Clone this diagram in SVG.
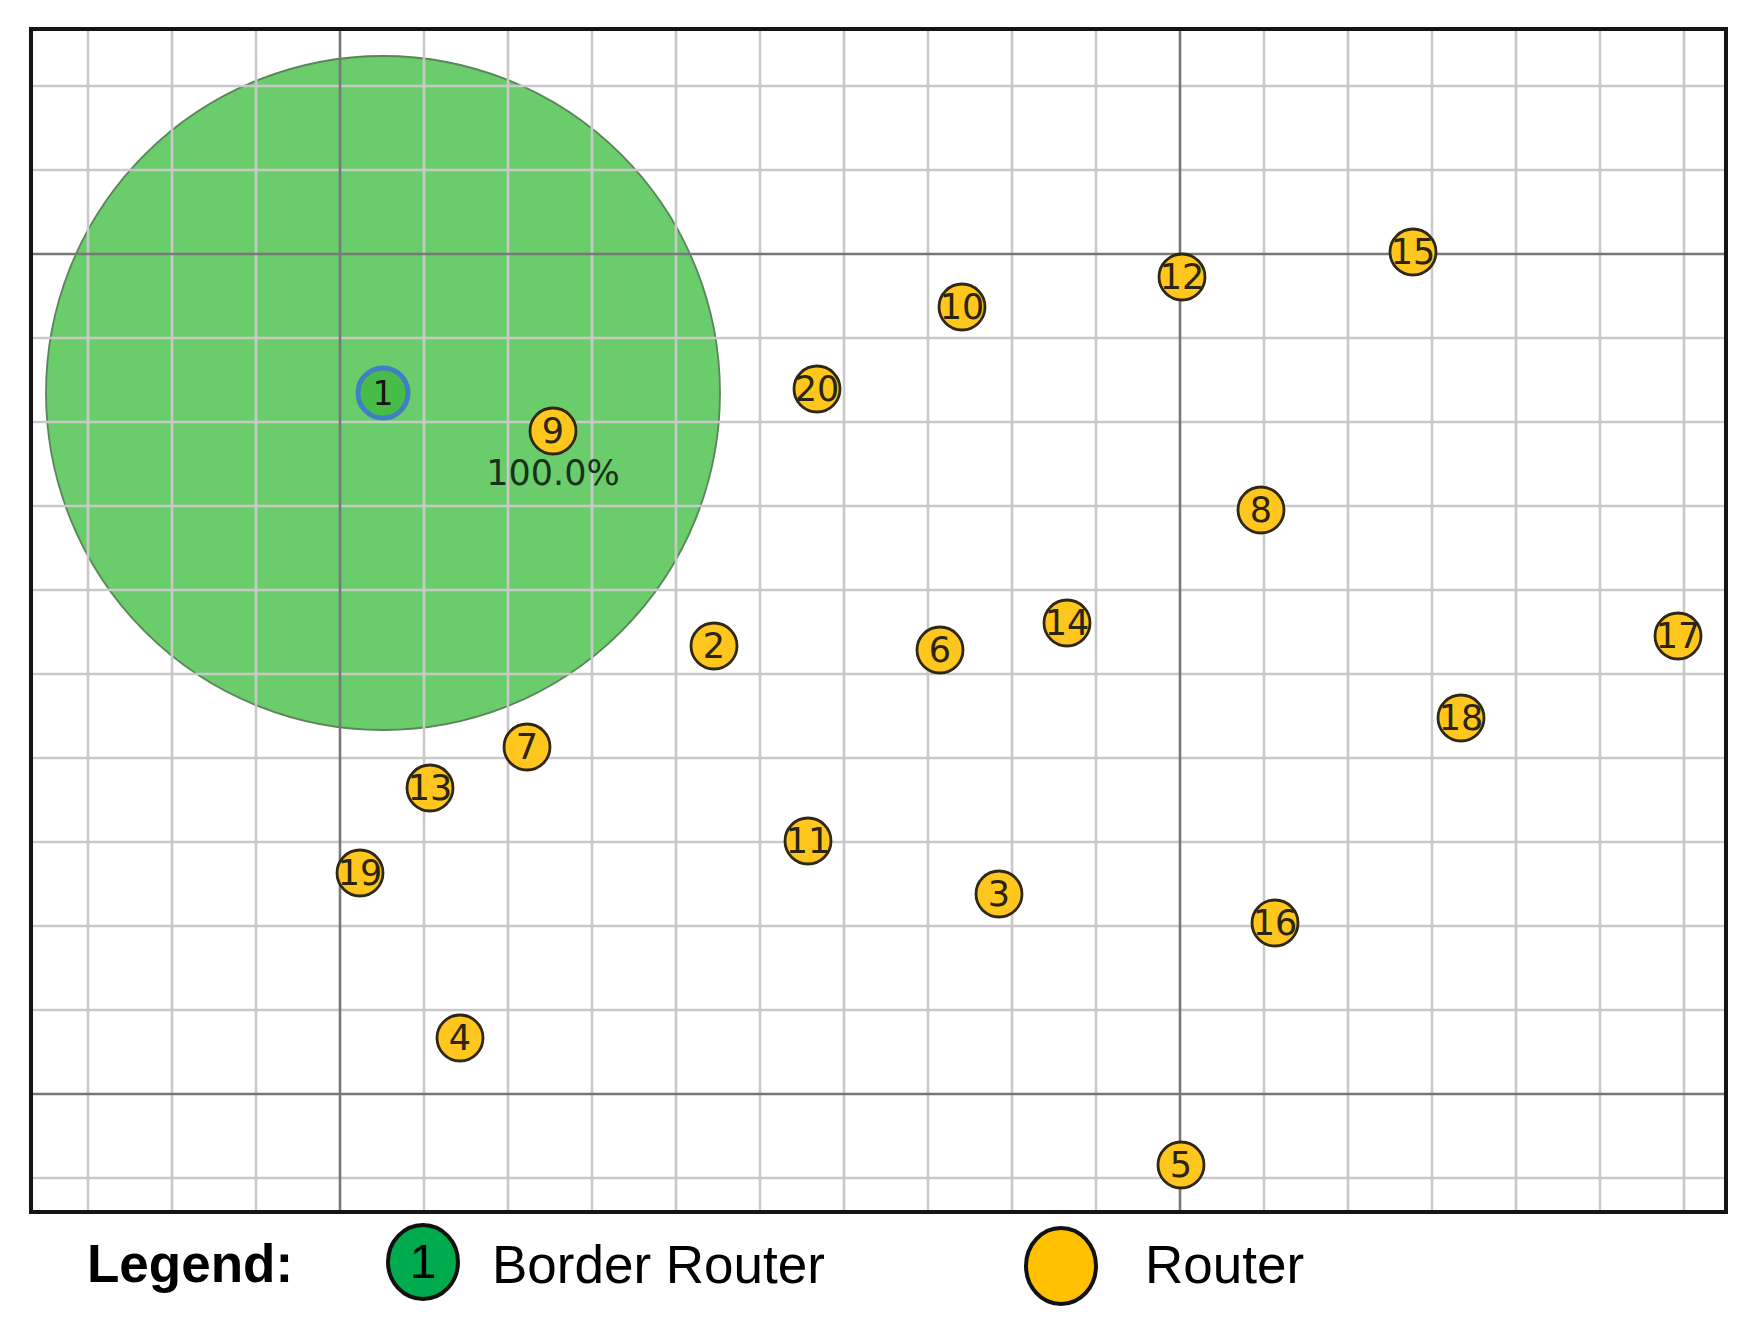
<svg xmlns="http://www.w3.org/2000/svg" width="1752" height="1328" viewBox="0 0 1752 1328">
<style>
.gl{stroke:#c9c9c9;stroke-width:2.6;fill:none}
.gd{stroke:#787878;stroke-width:2.6;fill:none}
.frame{fill:none;stroke:#141414;stroke-width:4}
.rt circle{fill:#ffc71e;stroke:#2e2814;stroke-width:2.8}
.rt text{font-family:"DejaVu Sans",sans-serif;font-size:35px;fill:#2a2410;text-anchor:middle}
.lg{font-family:"Liberation Sans",Arial,sans-serif;fill:#000}
</style>
<rect x="0" y="0" width="1752" height="1328" fill="#ffffff"/>
<g id="range">
<circle cx="383" cy="393" r="337" fill="#6acc6a" stroke="#5a855a" stroke-width="1.8"/>
</g>
<g id="grid">
<path class="gl" d="M88 29V1212M172 29V1212M256 29V1212M424 29V1212M508 29V1212M592 29V1212M676 29V1212M760 29V1212M844 29V1212M928 29V1212M1012 29V1212M1096 29V1212M1264 29V1212M1348 29V1212M1432 29V1212M1516 29V1212M1600 29V1212M1684 29V1212"/>
<path class="gl" d="M31 86H1726M31 170H1726M31 338H1726M31 422H1726M31 506H1726M31 590H1726M31 674H1726M31 758H1726M31 842H1726M31 926H1726M31 1010H1726M31 1178H1726"/>
<path class="gd" d="M340 29V1212M1180 29V1212M31 254H1726M31 1094H1726"/>
<rect class="frame" x="31" y="29" width="1695" height="1183"/>
</g>
<g id="connectors"/>
<g id="node-1">
<circle cx="383" cy="393" r="25" fill="#47bd47" stroke="#3f80c4" stroke-width="5"/>
<text x="383" y="405" font-family="DejaVu Sans,sans-serif" font-size="33" fill="#161616" text-anchor="middle">1</text>
</g>
<g id="node-9" class="rt"><circle cx="553" cy="431" r="23"/><text x="553" y="443">9</text></g>
<g id="label-9"><text x="553" y="485" font-family="DejaVu Sans,sans-serif" font-size="35" fill="#17301a" text-anchor="middle">100.0%</text></g>
<g id="node-20" class="rt"><circle cx="817" cy="389" r="23"/><text x="817" y="401">20</text></g>
<g id="node-10" class="rt"><circle cx="962" cy="307" r="23"/><text x="962" y="319">10</text></g>
<g id="node-12" class="rt"><circle cx="1182" cy="277" r="23"/><text x="1182" y="289">12</text></g>
<g id="node-15" class="rt"><circle cx="1413" cy="252" r="23"/><text x="1413" y="264">15</text></g>
<g id="node-8" class="rt"><circle cx="1261" cy="510" r="23"/><text x="1261" y="522">8</text></g>
<g id="node-2" class="rt"><circle cx="714" cy="646" r="23"/><text x="714" y="658">2</text></g>
<g id="node-6" class="rt"><circle cx="940" cy="650" r="23"/><text x="940" y="662">6</text></g>
<g id="node-14" class="rt"><circle cx="1067" cy="623" r="23"/><text x="1067" y="635">14</text></g>
<g id="node-17" class="rt"><circle cx="1678" cy="636" r="23"/><text x="1678" y="648">17</text></g>
<g id="node-18" class="rt"><circle cx="1461" cy="718" r="23"/><text x="1461" y="730">18</text></g>
<g id="node-7" class="rt"><circle cx="527" cy="747" r="23"/><text x="527" y="759">7</text></g>
<g id="node-13" class="rt"><circle cx="430" cy="788" r="23"/><text x="430" y="800">13</text></g>
<g id="node-19" class="rt"><circle cx="360" cy="873" r="23"/><text x="360" y="885">19</text></g>
<g id="node-11" class="rt"><circle cx="808" cy="841" r="23"/><text x="808" y="853">11</text></g>
<g id="node-3" class="rt"><circle cx="999" cy="894" r="23"/><text x="999" y="906">3</text></g>
<g id="node-16" class="rt"><circle cx="1275" cy="923" r="23"/><text x="1275" y="935">16</text></g>
<g id="node-4" class="rt"><circle cx="460" cy="1038" r="23"/><text x="460" y="1050">4</text></g>
<g id="node-5" class="rt"><circle cx="1181" cy="1165" r="23"/><text x="1181" y="1177">5</text></g>
<g id="legend">
<text class="lg" x="87" y="1282" font-size="53" font-weight="bold">Legend:</text>
<ellipse cx="423" cy="1262" rx="35" ry="37" fill="#00ab4e" stroke="#111" stroke-width="4"/>
<text class="lg" x="423" y="1278" font-size="48" text-anchor="middle">1</text>
<text class="lg" x="492" y="1283" font-size="53">Border Router</text>
<ellipse cx="1061" cy="1266" rx="35" ry="38" fill="#ffc000" stroke="#111" stroke-width="4"/>
<text class="lg" x="1145" y="1283" font-size="53">Router</text>
</g>
</svg>
